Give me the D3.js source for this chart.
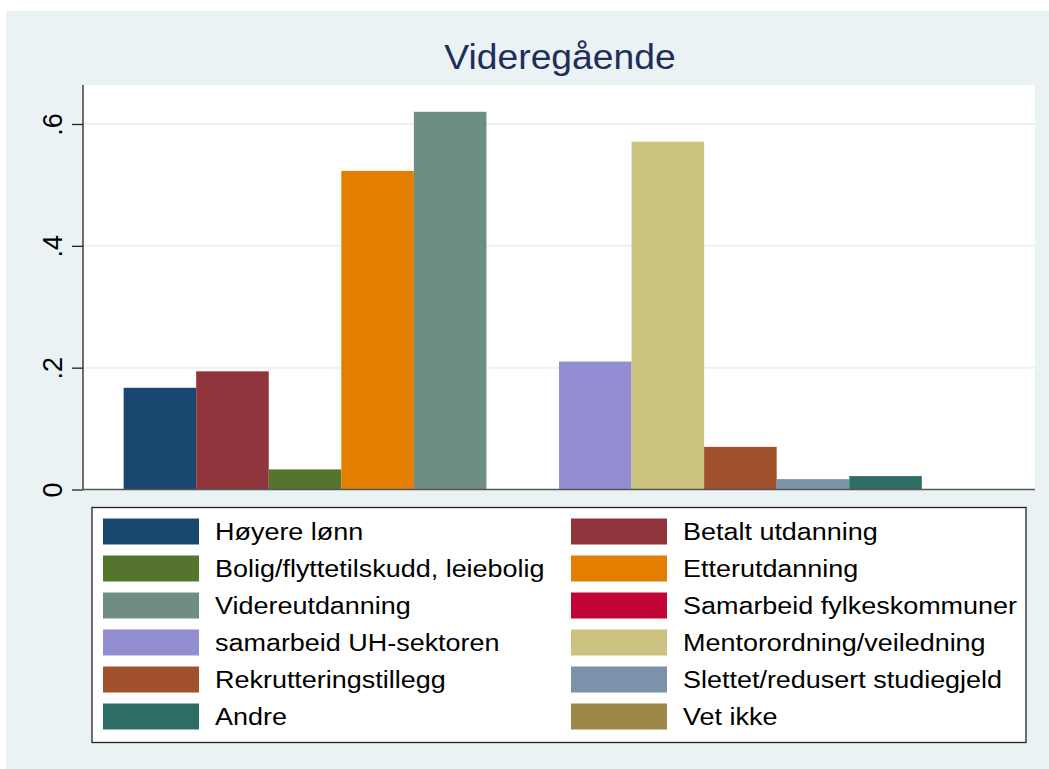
<!DOCTYPE html>
<html>
<head>
<meta charset="utf-8">
<script src="https://cdn.jsdelivr.net/npm/d3@7"></script>
<style>
  body { margin: 0; background: #fff; }
  svg { display: block; font-family: "Liberation Sans", Arial, sans-serif; }
</style>
</head>
<body>
<svg id="chart" width="1049" height="769"></svg>
<script>
const categories = [
  "Høyere lønn", "Betalt utdanning", "Bolig/flyttetilskudd, leiebolig",
  "Etterutdanning", "Videreutdanning", "Samarbeid fylkeskommuner",
  "samarbeid UH-sektoren", "Mentorordning/veiledning", "Rekrutteringstillegg",
  "Slettet/redusert studiegjeld", "Andre", "Vet ikke"
];
const values = [0.167, 0.194, 0.033, 0.523, 0.620, 0, 0.210, 0.571, 0.070, 0.017, 0.022, 0];
const yTicks = [0, 0.2, 0.4, 0.6];
const yTickLabels = ["0", ".2", ".4", ".6"];
const titleText = "Videregående";

const palette = ["#1a476f", "#90353b", "#55752f", "#e37e00", "#6e8e84", "#c10534",
  "#938dd2", "#cac27e", "#a0522d", "#7b92a8", "#2d6d66", "#9c8847"];

const svg = d3.select('#chart');
const margin = { top: 85, right: 14, bottom: 279.5, left: 83 };
const width = 1049, height = 769;

// background
svg.append('rect')
  .attr('x', 6).attr('y', 11)
  .attr('width', width - 6).attr('height', height - 11)
  .attr('fill', '#eaf2f3');

const plotRight = width - margin.right;
const plotBottom = height - margin.bottom;

svg.append('rect')
  .attr('x', margin.left).attr('y', margin.top)
  .attr('width', plotRight - margin.left).attr('height', plotBottom - margin.top)
  .attr('fill', '#fff');

svg.append('text')
  .attr('text-anchor', 'middle')
  .attr('font-size', 36)
  .attr('fill', '#1e2d5a')
  .attr('transform', 'translate(560,69) scale(1.035,1)')
  .text(titleText);

const xScale = d3.scaleBand()
  .domain(categories)
  .range([margin.left, plotRight])
  .paddingInner(0)
  .paddingOuter(0.56);

const yScale = d3.scaleLinear()
  .domain([0, 0.664])
  .range([plotBottom, margin.top]);

// grid
svg.append('g')
  .selectAll('line')
  .data(yTicks.filter(d => d > 0))
  .enter()
  .append('line')
  .attr('x1', margin.left).attr('x2', plotRight)
  .attr('y1', d => yScale(d)).attr('y2', d => yScale(d))
  .attr('stroke', '#eaf2f3')
  .attr('stroke-width', 2);

// bars
svg.append('g')
  .selectAll('rect')
  .data(values)
  .enter()
  .append('rect')
  .attr('x', (d, i) => xScale(categories[i]))
  .attr('y', d => yScale(d))
  .attr('width', xScale.bandwidth())
  .attr('height', d => plotBottom - yScale(d))
  .attr('fill', (d, i) => palette[i]);

// y axis
const yAxis = d3.axisLeft(yScale)
  .tickValues(yTicks)
  .tickFormat((d, i) => yTickLabels[i])
  .tickSize(11)
  .tickPadding(0);

const gy = svg.append('g')
  .attr('transform', 'translate(' + margin.left + ',0)')
  .call(yAxis);
gy.select('.domain').remove();
gy.selectAll('.tick line').attr('stroke', '#222').attr('stroke-width', 1.3);
gy.selectAll('.tick text')
  .attr('x', null).attr('dy', null)
  .attr('font-size', 27)
  .attr('fill', '#000')
  .attr('text-anchor', 'middle')
  .attr('transform', 'translate(-21,0) rotate(-90)');

svg.append('line')
  .attr('x1', margin.left).attr('x2', margin.left)
  .attr('y1', margin.top).attr('y2', plotBottom)
  .attr('stroke', '#222').attr('stroke-width', 1.3);

svg.append('line')
  .attr('x1', margin.left).attr('x2', plotRight)
  .attr('y1', plotBottom).attr('y2', plotBottom)
  .attr('stroke', '#555').attr('stroke-width', 1.6);

// legend
const legend = svg.append('g');
legend.append('rect')
  .attr('x', 92).attr('y', 507.5)
  .attr('width', 934).attr('height', 235)
  .attr('fill', '#fff')
  .attr('stroke', '#222').attr('stroke-width', 1.3);

const items = legend.selectAll('g.item')
  .data(categories)
  .enter()
  .append('g')
  .attr('class', 'item')
  .attr('transform', (d, i) => {
    const col = i % 2, row = Math.floor(i / 2);
    return 'translate(' + (col === 0 ? 103 : 571) + ',' + (531.5 + row * 37) + ')';
  });

items.append('rect')
  .attr('x', 0).attr('y', -13)
  .attr('width', 96).attr('height', 26)
  .attr('fill', (d, i) => palette[i]);

items.append('text')
  .attr('font-size', 24.5)
  .attr('fill', '#000')
  .attr('transform', 'translate(112,8.8) scale(1.1,1)')
  .text(d => d);
</script>
</body>
</html>
